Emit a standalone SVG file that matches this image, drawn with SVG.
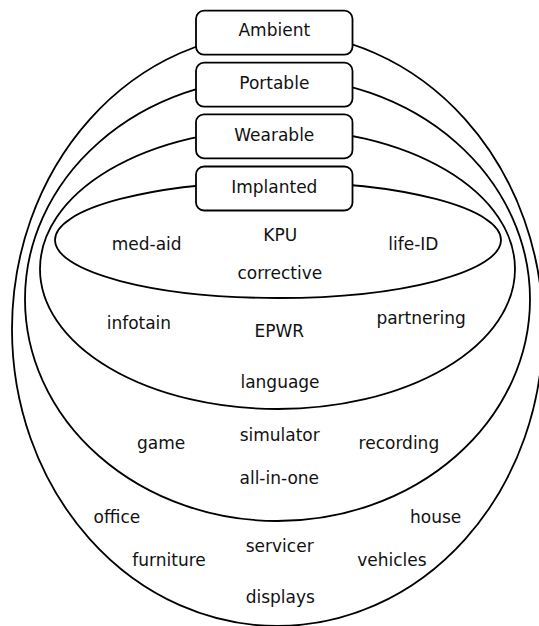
<svg xmlns="http://www.w3.org/2000/svg" width="539" height="626" viewBox="0 0 539 626">
  <style>
    .ring { fill: none; stroke: #000; stroke-width: 1.8; }
    .box { fill: #fff; stroke: #000; stroke-width: 1.8; }
    text { font-family: "DejaVu Sans", "Liberation Sans", sans-serif; font-size: 17px; fill: #111; text-anchor: middle; }
  </style>
  <rect width="539" height="626" fill="#fff"/>

  <!-- nested device categories, outermost first -->
  <g id="connectors">
    <ellipse id="ring-ambient" class="ring" cx="277.5" cy="329.2" rx="265.5" ry="296.8"/>
    <ellipse id="ring-portable" class="ring" cx="277.5" cy="299.2" rx="252.5" ry="221.8"/>
    <ellipse id="ring-wearable" class="ring" cx="277.5" cy="268.9" rx="237.5" ry="140.1"/>
    <ellipse id="ring-implanted" class="ring" cx="278" cy="240" rx="223" ry="58"/>
  </g>

  <!-- category labels -->
  <g id="ambient">
    <rect class="box" x="196" y="10.7" width="156.5" height="44" rx="8"/>
    <text x="274.3" y="36">Ambient</text>
  </g>
  <g id="portable">
    <rect class="box" x="196" y="62.7" width="156.5" height="44" rx="8"/>
    <text x="274.3" y="89">Portable</text>
  </g>
  <g id="wearable">
    <rect class="box" x="196" y="114.3" width="156.5" height="44" rx="8"/>
    <text x="274.3" y="141.3">Wearable</text>
  </g>
  <g id="implanted">
    <rect class="box" x="196" y="166.5" width="156.5" height="44" rx="8"/>
    <text x="274.3" y="193">Implanted</text>
  </g>

  <!-- implanted items -->
  <g id="implanted-items">
    <text x="146.7" y="250">med-aid</text>
    <text x="280.2" y="241">KPU</text>
    <text x="413.4" y="249.5">life-ID</text>
    <text x="279.8" y="279">corrective</text>
  </g>

  <!-- wearable items -->
  <g id="wearable-items">
    <text x="138.9" y="329">infotain</text>
    <text x="279.3" y="337">EPWR</text>
    <text x="421.1" y="324">partnering</text>
    <text x="280" y="388.3">language</text>
  </g>

  <!-- portable items -->
  <g id="portable-items">
    <text x="161.2" y="449">game</text>
    <text x="279.7" y="440.7">simulator</text>
    <text x="398.9" y="449">recording</text>
    <text x="279.3" y="484">all-in-one</text>
  </g>

  <!-- ambient items -->
  <g id="ambient-items">
    <text x="116.9" y="523">office</text>
    <text x="435.7" y="523">house</text>
    <text x="279.7" y="552">servicer</text>
    <text x="169" y="566">furniture</text>
    <text x="391.9" y="566">vehicles</text>
    <text x="280.3" y="603.3">displays</text>
  </g>
</svg>
